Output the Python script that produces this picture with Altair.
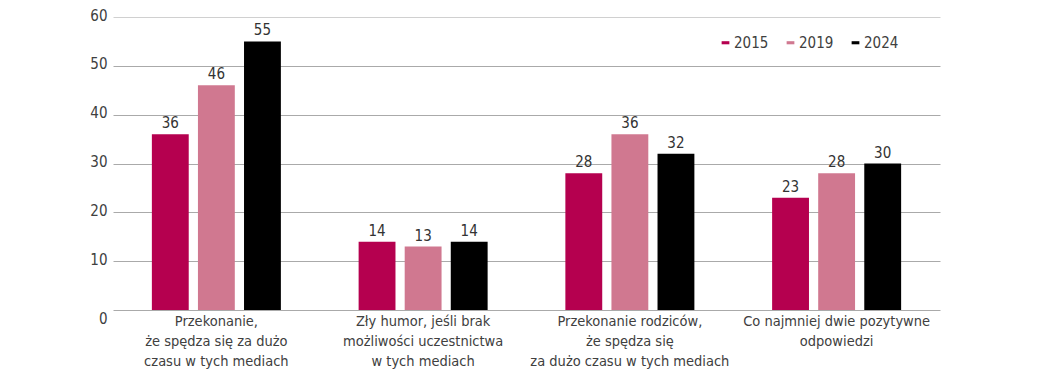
import altair as alt
import pandas as pd

categories = [
    "Przekonanie,|że spędza się za dużo|czasu w tych mediach",
    "Zły humor, jeśli brak|możliwości uczestnictwa|w tych mediach",
    "Przekonanie rodziców,|że spędza się|za dużo czasu w tych mediach",
    "Co najmniej dwie pozytywne|odpowiedzi",
]
years = ["2015", "2019", "2024"]
v2015 = [36, 14, 28, 23]
v2019 = [46, 13, 36, 28]
v2024 = [55, 14, 32, 30]
colors = ["#b5004f", "#d07890", "#000000"]
y_ticks = [0, 10, 20, 30, 40, 50, 60]

rows = []
for yr, vals in zip(years, [v2015, v2019, v2024]):
    for c, v in zip(categories, vals):
        rows.append({"cat": c, "year": yr, "value": v})
df = pd.DataFrame(rows)

FONT = "Liberation Sans Narrow, DejaVu Sans Condensed, sans-serif"

x = alt.X(
    "cat:N",
    sort=categories,
    scale=alt.Scale(paddingInner=0.376, paddingOuter=0.188),
    axis=alt.Axis(
        title=None,
        labelAngle=0,
        ticks=False,
        domain=False,
        labelPadding=4,
        labelLineHeight=20,
        labelFontSize=14.5,
        labelFont=FONT,
        labelColor="#404040",
        labelLimit=0,
        labelExpr="split(datum.label, '|')",
    ),
)
xoff = alt.XOffset("year:N", sort=years, scale=alt.Scale(paddingInner=0.2, paddingOuter=0))
y = alt.Y(
    "value:Q",
    scale=alt.Scale(domain=[0, 60]),
    axis=alt.Axis(
        title=None,
        values=y_ticks,
        grid=True,
        gridColor={"condition": {"test": "datum.value == 60", "value": "#d0d0d0"}, "value": "#aaaaaa"},
        domain=False,
        ticks=False,
        labelPadding=6,
        labelFontSize=15,
        labelFont=FONT,
        labelColor="#404040",
        labelOffset={"condition": {"test": "datum.value == 0", "value": 8}, "value": -2},
    ),
)

bars = alt.Chart(df).mark_bar().encode(
    x=x,
    xOffset=xoff,
    y=y,
    color=alt.Color(
        "year:N",
        sort=years,
        scale=alt.Scale(domain=years, range=colors),
        legend=alt.Legend(
            title=None,
            orient="none",
            legendX=605,
            legendY=18,
            direction="horizontal",
            symbolType="M-1,-0.4L1,-0.4L1,0.4L-1,0.4Z",
            symbolSize=60,
            symbolStrokeWidth=0,
            labelFont=FONT,
            labelFontSize=15,
            labelColor="#404040",
            labelOffset=1,
            columnPadding=14,
        ),
    ),
)

texts = alt.Chart(df).mark_text(
    baseline="bottom", dy=-3, fontSize=15, font=FONT, color="#333333"
).encode(
    x=alt.X("cat:N", sort=categories),
    xOffset=alt.XOffset("year:N", sort=years),
    y="value:Q",
    text="value:Q",
)

chart = (
    alt.layer(bars, texts)
    .properties(
        width=827,
        height=293,
        autosize=alt.AutoSizeParams(type="none"),
        padding={"left": 105, "top": 9, "right": 95, "bottom": 63},
    )
    .configure_view(stroke=None)
)

chart.save("out.html", embed_options={"renderer": "svg", "actions": False})
